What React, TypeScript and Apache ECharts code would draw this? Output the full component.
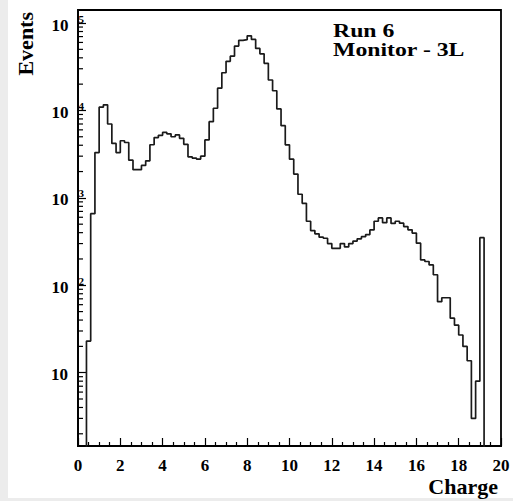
import React, { useEffect, useRef } from "react";
import * as echarts from "echarts";

// ---- data ----
const BIN_START = 0;
const BIN_WIDTH = 0.2;
const X_MAX = 20;
// events per 0.2-wide charge bin, 0 .. 20
const counts = [
  0, 0, 23, 660, 3300, 10900, 11600, 7000, 4200, 3300,
  4500, 4300, 2700, 2100, 2100, 2350, 2650, 4050, 4900, 5200,
  5600, 5400, 5000, 5250, 4800, 4100, 2950, 2850, 2780, 3000,
  4600, 7450, 10600, 18000, 27000, 36500, 41800, 54500, 63500, 64500,
  71500, 65000, 51300, 44500, 34600, 22300, 16800, 10400, 6700, 4040,
  2770, 1870, 1100, 865, 540, 423, 388, 355, 345, 300,
  265, 265, 300, 275, 300, 320, 340, 360, 380, 430,
  540, 590, 520, 590, 510, 540, 513, 470, 431, 396,
  303, 195, 187, 171, 132, 65, 72, 72, 42, 35,
  27, 20, 13.7, 3, 8, 350, 0, 0, 0, 0,
];
const Y_MIN = 1.45;
const Y_MAX = 1.41e5;
const minorMantissas = [2, 3, 4, 5, 6, 7, 8, 9];
const minorExponents = [0, 1, 2, 3, 4];
const xTitle = "Charge";
const yTitle = "Events";
const infoLines = ["Run 6", "Monitor - 3L"];

const FONT = "'Liberation Serif', 'DejaVu Serif', serif";

export default function App() {
  const ref = useRef<HTMLDivElement>(null);

  useEffect(() => {
    if (!ref.current) return;
    const chart = echarts.init(ref.current, null, { renderer: "svg" });

    const floor = Y_MIN / 2; // empty bins sit below the axis floor (clipped)
    const stepData: [number, number][] = counts.map((c, i) => [
      BIN_START + i * BIN_WIDTH,
      c > 0 ? c : floor,
    ]);
    const last = counts[counts.length - 1];
    stepData.push([X_MAX, last > 0 ? last : floor]);

    const minorTicks: [number, number][] = [];
    minorExponents.forEach((e) =>
      minorMantissas.forEach((m) => {
        const v = m * Math.pow(10, e);
        if (v > Y_MIN && v < Y_MAX) minorTicks.push([0, v]);
      })
    );

    const infoStyle = {
      align: "left",
      verticalAlign: "middle",
      fontFamily: FONT,
      fontWeight: "bold",
      fontSize: 19,
      fill: "#000",
    };

    chart.setOption({
      animation: false,
      backgroundColor: "transparent",
      grid: {
        left: 78,
        top: 10,
        right: 12,
        bottom: 55,
        show: true,
        borderColor: "#000",
        borderWidth: 1.8,
        backgroundColor: "transparent",
      },
      xAxis: {
        type: "value",
        min: 0,
        max: X_MAX,
        interval: 2,
        axisLine: { show: true, onZero: false, lineStyle: { color: "#000", width: 1.8 } },
        axisTick: { show: true, inside: true, length: 8, lineStyle: { color: "#000", width: 1.2 } },
        minorTick: { show: true, splitNumber: 4, length: 4, lineStyle: { color: "#000", width: 1.2 } },
        splitLine: { show: false },
        axisLabel: {
          color: "#000",
          fontFamily: FONT,
          fontWeight: "bold",
          fontSize: 17,
          margin: 11,
        },
      },
      yAxis: {
        type: "log",
        logBase: 10,
        min: Y_MIN,
        max: Y_MAX,
        axisLine: { show: true, lineStyle: { color: "#000", width: 1.8 } },
        axisTick: { show: true, inside: true, length: 8, lineStyle: { color: "#000", width: 1.2 } },
        splitLine: { show: false },
        axisLabel: {
          margin: -6,
          showMinLabel: false,
          showMaxLabel: false,
          formatter: (v: number) => {
            const l = Math.log10(v);
            const e = Math.round(l);
            if (Math.abs(l - e) > 1e-6) return "";
            if (e === 1) return "{t|10}";
            return `{b|10}{s|${e}}`;
          },
          rich: {
            t: {
              color: "#000",
              fontFamily: FONT,
              fontWeight: "bold",
              fontSize: 17,
              lineHeight: 20,
              padding: [4, 16, 0, 0],
            },
            b: {
              color: "#000",
              fontFamily: FONT,
              fontWeight: "bold",
              fontSize: 17,
              lineHeight: 20,
              padding: [4, 0, 0, 0],
            },
            s: {
              color: "#000",
              fontFamily: FONT,
              fontWeight: "bold",
              fontSize: 11,
              lineHeight: 11,
              verticalAlign: "top",
              padding: [0, 0, 0, 10],
            },
          },
        },
      },
      series: [
        {
          type: "line",
          step: "end",
          data: stepData,
          symbol: "none",
          clip: true,
          silent: true,
          lineStyle: { color: "#1a1a1a", width: 1.7 },
        },
        {
          type: "custom",
          data: minorTicks,
          silent: true,
          clip: true,
          encode: { x: 0, y: 1 },
          renderItem: (params: any, api: any) => {
            const p = api.coord([api.value(0), api.value(1)]);
            return {
              type: "line",
              shape: { x1: p[0], y1: p[1], x2: p[0] + 5, y2: p[1] },
              style: { stroke: "#000", lineWidth: 1.2 },
            };
          },
        },
      ],
      graphic: [
        {
          type: "text",
          x: 25.6,
          y: 12,
          rotation: Math.PI / 2,
          style: {
            text: yTitle,
            align: "right",
            verticalAlign: "middle",
            fontFamily: FONT,
            fontWeight: "bold",
            fontSize: 22,
            fill: "#000",
          },
        },
        {
          type: "text",
          x: 498,
          y: 486,
          style: {
            text: xTitle,
            align: "right",
            verticalAlign: "middle",
            fontFamily: FONT,
            fontWeight: "bold",
            fontSize: 22,
            fill: "#000",
          },
        },
        {
          type: "text",
          x: 333,
          y: 31.2,
          scaleX: 1.25,
          style: { ...infoStyle, text: infoLines[0] },
        },
        {
          type: "text",
          x: 333,
          y: 50.3,
          scaleX: 1.25,
          style: { ...infoStyle, text: infoLines[1] },
        },
      ],
    });

    return () => chart.dispose();
  }, []);

  return (
    <div
      style={{
        position: "fixed",
        left: 0,
        top: 0,
        width: 513,
        height: 501,
        background: "#ececec",
      }}
    >
      <div
        style={{
          position: "absolute",
          left: 8,
          top: 0,
          width: 505,
          height: 498,
          background: "#ffffff",
        }}
      />
      <div
        ref={ref}
        style={{ position: "absolute", left: 0, top: 0, width: 513, height: 501 }}
      />
    </div>
  );
}
